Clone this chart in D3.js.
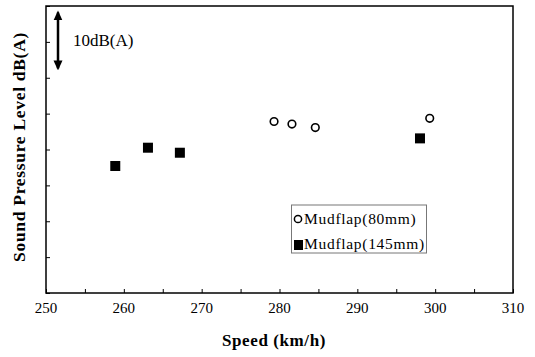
<!DOCTYPE html>
<html><head><meta charset="utf-8">
<script src="https://cdn.jsdelivr.net/npm/d3@7"></script>
<style>body{margin:0;background:#fff}svg{display:block}</style>
</head><body>
<script>
const xTicks = [250, 260, 270, 280, 290, 300, 310];
const seriesNames = ["Mudflap(80mm)", "Mudflap(145mm)"];
const speed80 = [279.3, 281.6, 284.6, 299.3];
const spl80 = [83.9, 83.55, 83.05, 84.35];
const speed145 = [258.9, 263.1, 267.2, 298.05];
const spl145 = [77.7, 80.25, 79.55, 81.55];
const xTitle = "Speed (km/h)";
const yTitle = "Sound Pressure Level dB(A)";
const annot = "10dB(A)";

const W = 535, H = 357;
const m = {l: 46, t: 6, r: 513, b: 293};
const svg = d3.select("body").append("svg").attr("width", W).attr("height", H);
const x = d3.scaleLinear().domain([250, 310]).range([m.l, m.r]);
const y = d3.scaleLinear().domain([60, 100]).range([m.b, m.t]);
const serif = "'Liberation Serif','DejaVu Serif',serif";

// frame
svg.append("rect").attr("x", m.l).attr("y", m.t).attr("width", m.r - m.l).attr("height", m.b - m.t)
  .attr("fill", "none").attr("stroke", "#000").attr("stroke-width", 1.5);

// x axis inside ticks
const gx = svg.append("g").attr("transform", `translate(0,${m.b})`)
  .call(d3.axisBottom(x).tickValues(d3.range(250, 311, 5)).tickSize(-4).tickFormat(""));
gx.select(".domain").remove();
gx.selectAll("line").attr("stroke", "#000");
svg.append("g").selectAll("text").data(xTicks).join("text")
  .attr("x", d => x(d)).attr("y", 313).attr("text-anchor", "middle")
  .attr("font-family", serif).attr("font-size", 15).text(d => d);

// y axis inside ticks
const gy = svg.append("g").attr("transform", `translate(${m.l},0)`)
  .call(d3.axisLeft(y).tickValues(d3.range(60, 101, 5)).tickSize(-4).tickFormat(""));
gy.select(".domain").remove();
gy.selectAll("line").attr("stroke", "#000");

// titles
svg.append("text").attr("x", 274).attr("y", 346).attr("text-anchor", "middle")
  .attr("font-family", serif).attr("font-weight", "bold").attr("font-size", 17)
  .attr("letter-spacing", 0.6).text(xTitle);
svg.append("text").attr("transform", "translate(25,147) rotate(-90)").attr("text-anchor", "middle")
  .attr("font-family", serif).attr("font-weight", "bold").attr("font-size", 17.5)
  .attr("letter-spacing", 0.7).text(yTitle);

// annotation arrow
const defs = svg.append("defs");
defs.append("marker").attr("id", "ah").attr("viewBox", "0 0 10 10").attr("refX", 8).attr("refY", 5)
  .attr("markerWidth", 10).attr("markerHeight", 10).attr("markerUnits", "userSpaceOnUse").attr("orient", "auto-start-reverse")
  .append("path").attr("d", "M0,0.5 L10,5 L0,9.5 z").attr("fill", "#000");
svg.append("line").attr("x1", 58).attr("x2", 58).attr("y1", y(99.1)).attr("y2", y(91.3))
  .attr("stroke", "#000").attr("stroke-width", 2.5)
  .attr("marker-start", "url(#ah)").attr("marker-end", "url(#ah)");
svg.append("text").attr("x", 73).attr("y", 46).attr("font-family", serif).attr("font-size", 17).text(annot);

// data
svg.append("g").selectAll("circle").data(speed80.map((s, i) => [s, spl80[i]])).join("circle")
  .attr("cx", d => x(d[0])).attr("cy", d => y(d[1])).attr("r", 3.8)
  .attr("fill", "#fff").attr("stroke", "#000").attr("stroke-width", 1.6);
svg.append("g").selectAll("rect").data(speed145.map((s, i) => [s, spl145[i]])).join("rect")
  .attr("x", d => x(d[0]) - 5).attr("y", d => y(d[1]) - 5).attr("width", 10).attr("height", 10)
  .attr("fill", "#000");

// legend
const lg = svg.append("g");
lg.append("rect").attr("x", 291.5).attr("y", 205).attr("width", 135).attr("height", 48)
  .attr("fill", "#fff").attr("stroke", "#777").attr("stroke-width", 1);
lg.append("circle").attr("cx", 298).attr("cy", 219).attr("r", 3.6).attr("fill", "#fff").attr("stroke", "#000").attr("stroke-width", 1.5);
lg.append("rect").attr("x", 294).attr("y", 240).attr("width", 9).attr("height", 10).attr("fill", "#000");
lg.selectAll("text.l").data(seriesNames).join("text").attr("class", "l")
  .attr("x", 304).attr("y", (d, i) => 224 + i * 25)
  .attr("font-family", serif).attr("font-size", 15.5).attr("letter-spacing", 0.7).text(d => d);
</script>
</body></html>
